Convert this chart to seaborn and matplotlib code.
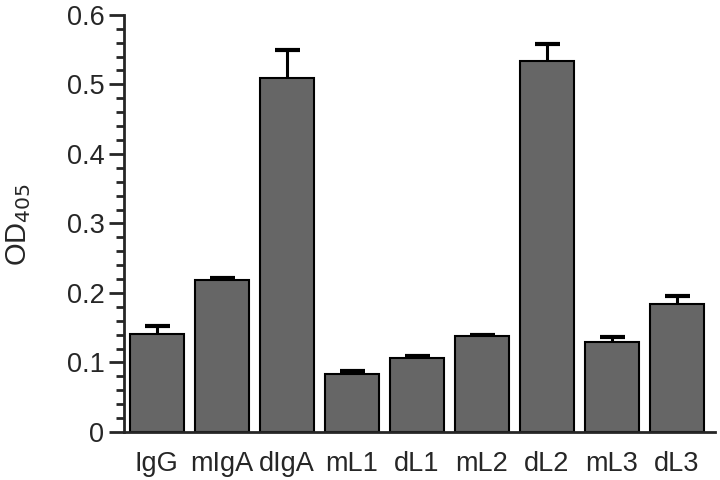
import numpy as np
import pandas as pd
import matplotlib
matplotlib.use("Agg")
import matplotlib.pyplot as plt
from matplotlib.ticker import MultipleLocator
import seaborn as sns

samples = ["IgG", "mIgA", "dIgA", "mL1", "dL1", "mL2", "dL2", "mL3", "dL3"]
od405 = [0.141, 0.218, 0.509, 0.083, 0.106, 0.138, 0.533, 0.130, 0.184]
err = [0.012, 0.003, 0.040, 0.005, 0.003, 0.002, 0.025, 0.006, 0.012]

df = pd.DataFrame({"sample": samples, "od": od405, "err": err})

sns.set_theme(style="ticks")
plt.rcParams["font.family"] = ["Liberation Sans", "DejaVu Sans"]

fig = plt.figure(figsize=(7.2, 4.8), dpi=100)
ax = fig.add_axes([0.172, 0.10, 0.821, 0.869])

sns.barplot(data=df, x="sample", y="od", color="#666666", saturation=1,
            width=0.83, edgecolor="black", linewidth=1.5, errorbar=None,
            ax=ax, zorder=2)

xs = np.arange(len(samples))
eb = ax.errorbar(xs, df["od"], yerr=[np.zeros(len(err)), df["err"]], fmt="none",
                 ecolor="black", elinewidth=2.2, capsize=9, capthick=3, zorder=1)
# only the upper cap, as in the original
eb[1][0].set_visible(False)

ax.set_xlim(-0.505, 8.585)
ax.set_ylim(0, 0.6)
ax.yaxis.set_major_locator(MultipleLocator(0.1))
ax.yaxis.set_minor_locator(MultipleLocator(0.02))
ax.set_yticks([0, 0.1, 0.2, 0.3, 0.4, 0.5, 0.6])
ax.set_yticklabels(["0", "0.1", "0.2", "0.3", "0.4", "0.5", "0.6"])
ax.tick_params(axis="y", which="major", length=11, width=2, labelsize=19.5, pad=3)
ax.tick_params(axis="y", which="minor", length=6, width=2)
ax.tick_params(axis="x", length=0, labelsize=19.5, pad=14)

sns.despine(ax=ax)
ax.spines["left"].set_linewidth(2)
ax.spines["bottom"].set_linewidth(2)

ax.set_xlabel("")
ax.set_ylabel("")
fig.text(19 / 720, 1 - 224 / 480, "OD$_{405}$", fontsize=21, rotation=90,
         ha="center", va="center")

fig.savefig("out.png", dpi=100)
